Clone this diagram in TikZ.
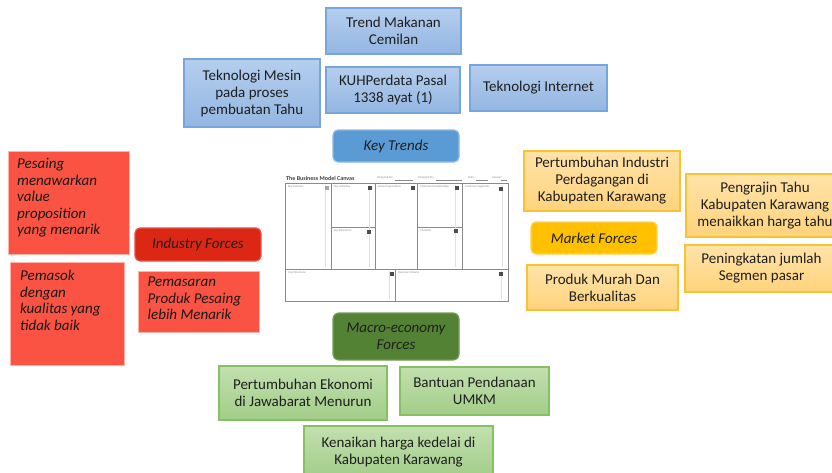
\documentclass[tikz,border=0pt]{standalone}
\usepackage{fontspec}
\setmainfont{Carlito}
\usetikzlibrary{calc}
\definecolor{BlueT}{HTML}{B5CEEE}
\definecolor{BlueB}{HTML}{93B6E2}
\definecolor{BlueD}{HTML}{79A5DD}
\definecolor{KeyB}{HTML}{5B9BD5}
\definecolor{RedF}{HTML}{FA5343}
\definecolor{RedD}{HTML}{FFB2A8}
\definecolor{IndF}{HTML}{DD2715}
\definecolor{OrT}{HTML}{FFE3A8}
\definecolor{OrB}{HTML}{FFD37C}
\definecolor{OrD}{HTML}{F8C234}
\definecolor{MkF}{HTML}{FFC000}
\definecolor{GrT}{HTML}{C2E0AE}
\definecolor{GrB}{HTML}{A2CD88}
\definecolor{GrD}{HTML}{86C063}
\definecolor{MacF}{HTML}{548235}
\definecolor{CanL}{HTML}{8A8A8A}
\begin{document}
\begin{tikzpicture}[x=1pt,y=-1pt,
  font=\fontsize{15}{17}\selectfont,
  base/.style={rectangle, inner sep=0pt, align=center, text=black!88, line width=1.2pt},
  bluebox/.style={base, draw=BlueD, top color=BlueT, bottom color=BlueB},
  keybox/.style={base, rounded corners=5pt, fill=KeyB, draw=KeyB!70, font=\fontsize{15}{17}\selectfont\itshape},
  redbox/.style={base, fill=RedF, draw=RedD, line width=0.8pt},
  redtext/.style={inner sep=0pt, align=left, anchor=north west, text=black!90, font=\fontsize{15}{16.5}\selectfont\itshape},
  indbox/.style={base, rounded corners=5pt, fill=IndF, draw=IndF!80, font=\fontsize{15}{17}\selectfont\itshape},
  orbox/.style={base, draw=OrD, top color=OrT, bottom color=OrB},
  mkbox/.style={base, rounded corners=5pt, fill=MkF, draw=MkF!70, font=\fontsize{15}{17}\selectfont\itshape},
  grbox/.style={base, draw=GrD, top color=GrT, bottom color=GrB},
  macbox/.style={base, rounded corners=6pt, fill=MacF, draw=MacF!80, font=\fontsize{15}{17}\selectfont\itshape},
  canline/.style={draw=CanL, line width=0.7pt},
  canicon/.style={fill=black!70, inner sep=0pt, minimum width=4, minimum height=4},
  canlabel/.style={inner sep=0pt, anchor=north west, text=black!45, font=\fontsize{3}{3.5}\selectfont}
]
\useasboundingbox (0,0) rectangle (832,472);
\clip (0,0) rectangle (832,472);

% Key trends (blue)
\node[bluebox, minimum width=135, minimum height=46] (trend) at (393.5,31) {Trend Makanan\\Cemilan};
\node[bluebox, minimum width=136, minimum height=68] (mesin) at (252,93) {Teknologi Mesin\\pada proses\\pembuatan Tahu};
\node[bluebox, minimum width=134, minimum height=46] (kuh) at (393,90) {KUHPerdata Pasal\\1338 ayat (1)};
\node[bluebox, minimum width=137, minimum height=46] (internet) at (538.5,88) {Teknologi Internet};
\node[keybox, minimum width=126, minimum height=32] (keytr) at (396,146) {Key Trends};

% Industry forces (red)
\node[redbox, minimum width=121, minimum height=103] (pesaing) at (68.5,202.5) {};
\node[redtext] (pesaingT) at (17,158) {Pesaing\\menawarkan\\value\\proposition\\yang menarik};
\node[redbox, minimum width=114, minimum height=103] (pemasok) at (67,313.5) {};
\node[redtext] (pemasokT) at (20,270) {Pemasok\\dengan\\kualitas yang\\tidak baik};
\node[indbox, minimum width=126, minimum height=33] (industry) at (198,244.5) {Industry Forces};
\node[redbox, minimum width=121, minimum height=61] (pemasaran) at (198.5,301.5) {};
\node[redtext] (pemasaranT) at (147.5,277) {Pemasaran\\Produk Pesaing\\lebih Menarik};

% Market forces (orange)
\node[orbox, minimum width=156, minimum height=60] (pertind) at (602,181) {Pertumbuhan Industri\\Perdagangan di\\Kabupaten Karawang};
\node[orbox, minimum width=158, minimum height=63] (pengrajin) at (765,205.5) {Pengrajin Tahu\\Kabupaten Karawang\\menaikkan harga tahu};
\node[mkbox, minimum width=126, minimum height=32] (market) at (594,238) {Market Forces};
\node[orbox, minimum width=153, minimum height=47] (peningkatan) at (761.5,268.5) {Peningkatan jumlah\\Segmen pasar};
\node[orbox, minimum width=151, minimum height=45] (produk) at (602.5,287.5) {Produk Murah Dan\\Berkualitas};

% Macro-economy forces (green)
\node[macbox, minimum width=126, minimum height=47] (macro) at (396,336.5) {Macro-economy\\Forces};
\node[grbox, minimum width=168, minimum height=54] (pertekon) at (303,393) {Pertumbuhan Ekonomi\\di Jawabarat Menurun};
\node[grbox, minimum width=149, minimum height=48] (bantuan) at (474.5,391) {Bantuan Pendanaan\\UMKM};
\node[grbox, minimum width=189, minimum height=52] (kenaikan) at (398.5,452) {Kenaikan harga kedelai di\\Kabupaten Karawang};

% Business Model Canvas picture
\fill[white] (285,174) rectangle (508,301);
\node[inner sep=0pt, anchor=west, text=black!75, font=\fontsize{6}{7}\selectfont\bfseries] (cantitle) at (286,178.5) {The Business Model Canvas};
\node[canlabel] (dfor) at (377,176) {Designed for:};
\node[canlabel] (dby) at (418,176) {Designed by:};
\node[canlabel] (cdate) at (468,176) {Date:};
\node[canlabel] (cver) at (492,176) {Version:};
\draw[canline, line width=0.4pt] (395,180) -- (413,180) (436,180) -- (462,180) (476,180) -- (488,180) (501,180) -- (507,180);
\draw[canline, line width=1pt] (285,183) rectangle (508,301);
\draw[canline] (331,183) -- (331,269) (375,183) -- (375,269) (417,183) -- (417,269) (462,183) -- (462,269);
\draw[canline] (285,269) -- (508,269) (331,227) -- (375,227) (417,227) -- (462,227) (395,269) -- (395,301);
\draw[draw=black!12, line width=0.4pt] (325,185) -- (325,267) (369,185) -- (369,267) (455,185) -- (455,267) (502,185) -- (502,267) (389,271) -- (389,299) (501,271) -- (501,299);
\node[canlabel] (kp) at (288,185.5) {Key Partners};
\node[canlabel] (ka) at (334,185.5) {Key Activities};
\node[canlabel] (vp) at (378,185.5) {Value Propositions};
\node[canlabel] (cr) at (420,185.5) {Customer Relationships};
\node[canlabel] (cs) at (465,185.5) {Customer Segments};
\node[canlabel] (kr) at (334,229.5) {Key Resources};
\node[canlabel] (ch) at (420,229.5) {Channels};
\node[canlabel] (cst) at (288,271.5) {Cost Structure};
\node[canlabel] (rs) at (398,271.5) {Revenue Streams};
\node[canicon, fill=black!35] (i1) at (326.5,188) {};
\node[canicon] (i2) at (369.5,188) {};
\node[canicon] (i3) at (413,188) {};
\node[canicon] (i4) at (456.5,188) {};
\node[canicon] (i5) at (501,188.5) {};
\node[canicon] (i6) at (368.5,232) {};
\node[canicon] (i7) at (456,231) {};
\node[canicon] (i8) at (391.5,273.5) {};
\node[canicon] (i9) at (501,273.5) {};
\end{tikzpicture}
\end{document}
